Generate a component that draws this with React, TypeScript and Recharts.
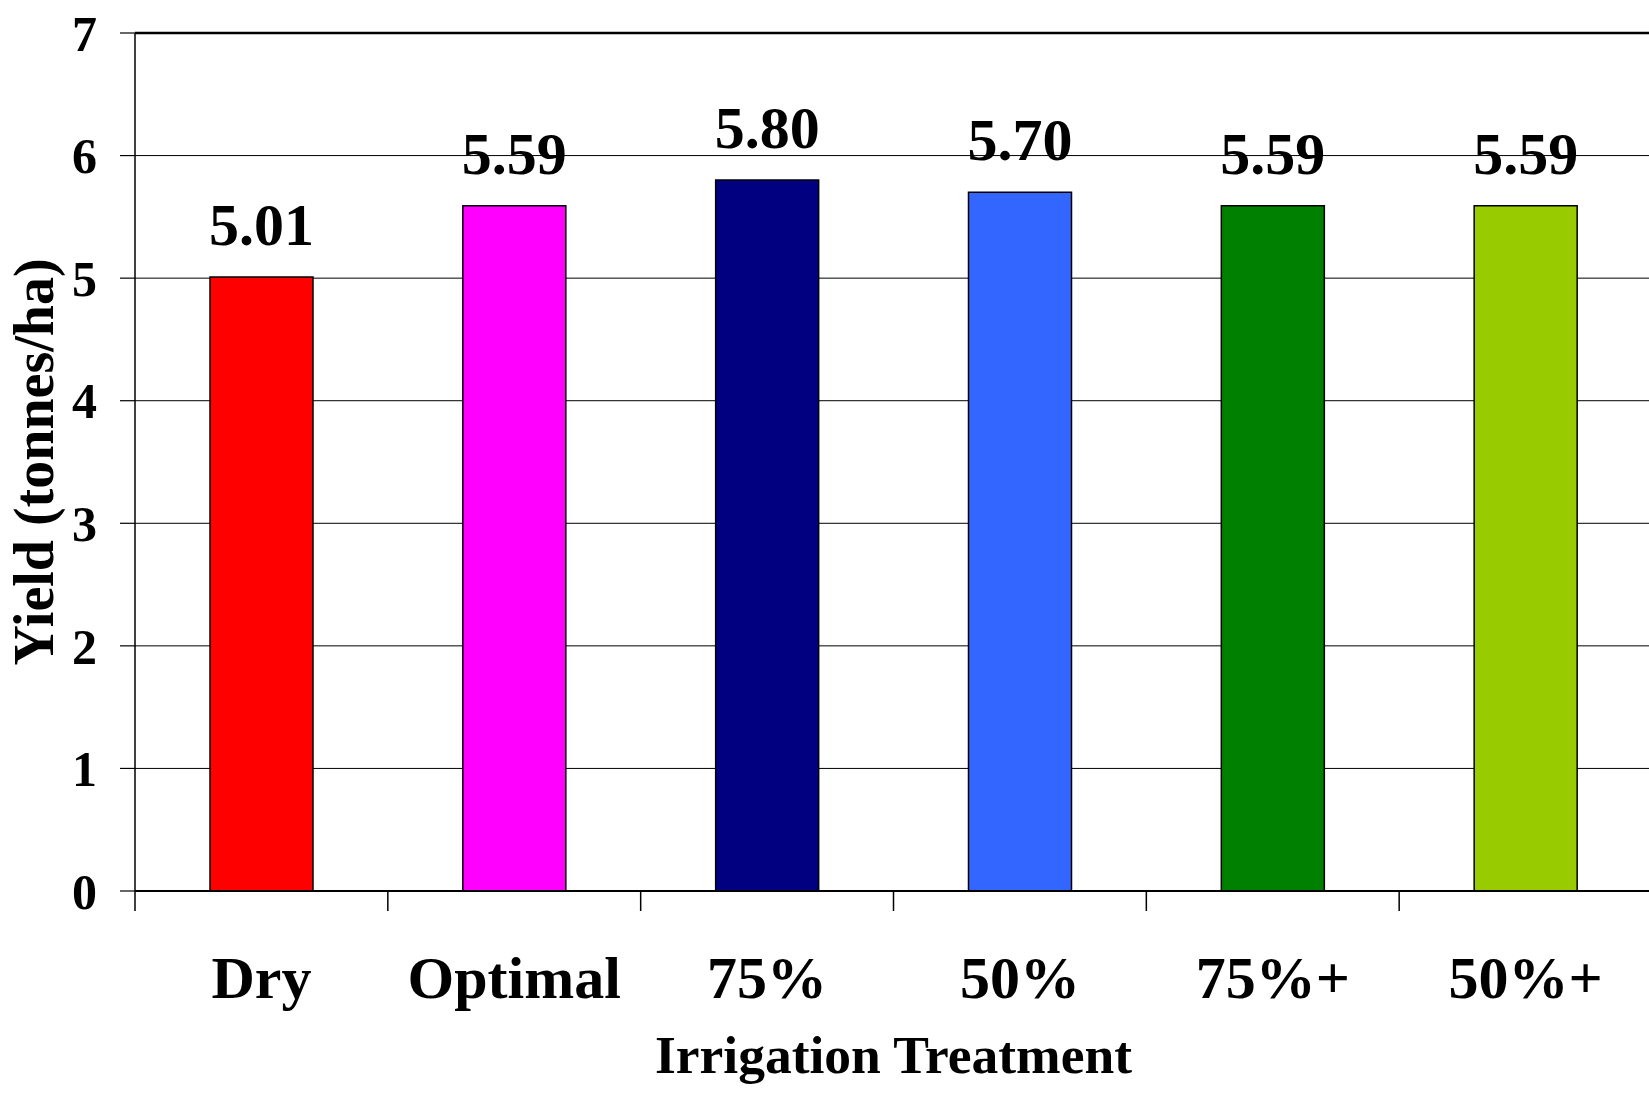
import React from "react";
import {
  BarChart,
  Bar,
  XAxis,
  YAxis,
  CartesianGrid,
  Cell,
  LabelList,
  ReferenceLine,
} from "recharts";

const treatments = ["Dry", "Optimal", "75%", "50%", "75%+", "50%+"];
const yields = [5.01, 5.59, 5.8, 5.7, 5.59, 5.59];
const barColors = ["#FF0000", "#FF00FF", "#000080", "#3366FF", "#008000", "#99CC00"];
const yTicks = [0, 1, 2, 3, 4, 5, 6, 7];

const FONT = '"Liberation Serif", "Times New Roman", serif';

const chartData = treatments.map((name, i) => ({
  name,
  value: yields[i],
}));

// Category label plus tick marks on the category boundaries
const CategoryTick: React.FC<any> = ({ x, y, payload, index, visibleTicksCount }) => {
  const half = payload && payload.offset ? payload.offset : 0;
  const isLast = index === visibleTicksCount - 1;
  return (
    <g>
      <line x1={x - half} x2={x - half} y1={y} y2={y + 20} stroke="#000" strokeWidth={1.5} />
      {isLast && (
        <line x1={x + half} x2={x + half} y1={y} y2={y + 20} stroke="#000" strokeWidth={1.5} />
      )}
      <text
        x={x}
        y={y + 64}
        dy="0.71em"
        textAnchor="middle"
        fontFamily={FONT}
        fontWeight="bold"
        fontSize={60}
        fill="#000"
      >
        {payload.value}
      </text>
    </g>
  );
};

const YTitle: React.FC<any> = ({ viewBox }) => {
  const cx = 53;
  const cy = viewBox ? viewBox.y + viewBox.height / 2 : 462;
  return (
    <text
      x={cx}
      y={cy}
      transform={`rotate(-90, ${cx}, ${cy})`}
      textAnchor="middle"
      fontFamily={FONT}
      fontWeight="bold"
      fontSize={56}
      fill="#000"
    >
      Yield (tonnes/ha)
    </text>
  );
};

const App: React.FC = () => {
  return (
    <div
      style={{
        position: "fixed",
        top: 0,
        left: 0,
        width: 1649,
        height: 1095,
        overflow: "hidden",
        background: "#fff",
      }}
    >
      <BarChart
        width={1670}
        height={1095}
        data={chartData}
        margin={{ top: 33, right: 18, left: 0, bottom: 0 }}
      >
        <CartesianGrid vertical={false} stroke="#000" strokeWidth={1} />
        <ReferenceLine y={7} stroke="#000" strokeWidth={2.5} />
        <XAxis
          dataKey="name"
          height={204}
          interval={0}
          axisLine={{ stroke: "#000", strokeWidth: 1.8 }}
          tickLine={false}
          tickSize={0}
          tickMargin={0}
          tick={<CategoryTick />}
          label={{
            value: "Irrigation Treatment",
            position: "insideBottom",
            offset: 22,
            fontFamily: FONT,
            fontWeight: "bold",
            fontSize: 53.5,
            fill: "#000",
          }}
        />
        <YAxis
          width={135}
          domain={[0, 7]}
          ticks={yTicks}
          interval={0}
          tickSize={15}
          tickMargin={23}
          axisLine={{ stroke: "#000", strokeWidth: 1.5 }}
          tickLine={{ stroke: "#000", strokeWidth: 1.2 }}
          tick={{ fontFamily: FONT, fontWeight: "bold", fontSize: 50, fill: "#000" }}
          label={<YTitle />}
        />
        <Bar
          dataKey="value"
          barSize={103}
          stroke="#000"
          strokeWidth={1.5}
          isAnimationActive={false}
        >
          {chartData.map((entry, index) => (
            <Cell key={`cell-${index}`} fill={barColors[index]} />
          ))}
          <LabelList
            dataKey="value"
            position="top"
            offset={32}
            formatter={(v: any) => Number(v).toFixed(2)}
            style={{ fontFamily: FONT, fontWeight: "bold", fontSize: 60, fill: "#000" }}
          />
        </Bar>
      </BarChart>
    </div>
  );
};

export default App;
